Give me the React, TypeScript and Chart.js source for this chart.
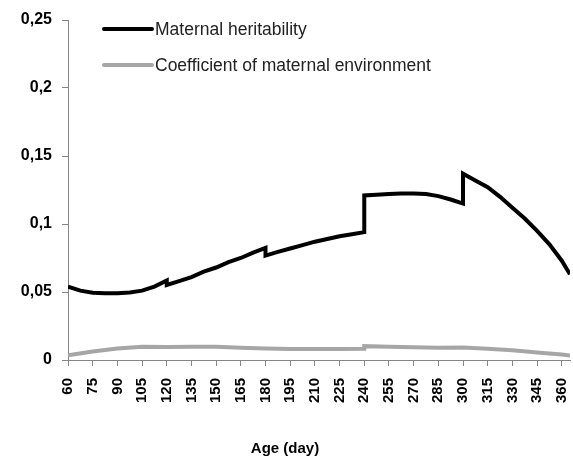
import React, { useEffect, useRef } from "react";
import { Chart, registerables } from "chart.js";

Chart.register(...registerables);

const heritAges = [60, 67.5, 75, 82.5, 90, 97.5, 105, 112.5, 120, 120, 127.5, 135, 142.5, 150, 157.5, 165, 172.5, 180, 180, 187.5, 195, 202.5, 210, 217.5, 225, 232.5, 240, 240, 247.5, 255, 262.5, 270, 277.5, 285, 292.5, 300, 300, 307.5, 315, 322.5, 330, 337.5, 345, 352.5, 360, 365];
const heritValues = [0.054, 0.051, 0.0495, 0.049, 0.049, 0.0497, 0.051, 0.054, 0.0585, 0.0552, 0.058, 0.061, 0.065, 0.068, 0.072, 0.075, 0.079, 0.0825, 0.0768, 0.0795, 0.082, 0.0845, 0.087, 0.089, 0.091, 0.0925, 0.094, 0.121, 0.1215, 0.122, 0.1225, 0.1225, 0.122, 0.1205, 0.118, 0.115, 0.137, 0.132, 0.127, 0.12, 0.112, 0.104, 0.095, 0.085, 0.073, 0.063];

const envAges = [60, 75, 90, 105, 120, 135, 150, 165, 180, 195, 210, 225, 240, 240, 255, 270, 285, 300, 315, 330, 345, 360, 365];
const envValues = [0.0035, 0.0062, 0.0085, 0.0098, 0.0095, 0.0098, 0.0098, 0.009, 0.0085, 0.008, 0.008, 0.008, 0.0082, 0.0102, 0.0098, 0.0093, 0.009, 0.0092, 0.0083, 0.0072, 0.0056, 0.004, 0.0033];

const xTickValues = [60, 75, 90, 105, 120, 135, 150, 165, 180, 195, 210, 225, 240, 255, 270, 285, 300, 315, 330, 345, 360];
const yTickLabels = ["0", "0,05", "0,1", "0,15", "0,2", "0,25"];

const seriesNames = ["Maternal heritability", "Coefficient of maternal environment"];
const seriesColors = ["#000000", "#a6a6a6"];

const legendPlugin = {
  id: "insideLegend",
  afterDraw(chart: any) {
    const ctx = chart.ctx;
    const a = chart.chartArea;
    ctx.save();
    seriesNames.forEach((name, i) => {
      const y = a.top + 9 + i * 36;
      ctx.strokeStyle = seriesColors[i];
      ctx.lineWidth = 4;
      ctx.lineCap = "round";
      ctx.beginPath();
      ctx.moveTo(a.left + 36, y);
      ctx.lineTo(a.left + 84, y);
      ctx.stroke();
      ctx.fillStyle = "#222";
      ctx.font = "17.5px 'Liberation Sans', Arial, sans-serif";
      ctx.textBaseline = "middle";
      ctx.textAlign = "left";
      ctx.fillText(name, a.left + 87, y + 1);
    });
    ctx.restore();
  },
};

export default function App() {
  const ref = useRef<HTMLCanvasElement | null>(null);
  useEffect(() => {
    document.body.style.margin = "0";
    if (!ref.current) return;
    const axisColor = "#868686";
    const chart = new Chart(ref.current, {
      type: "line",
      data: {
        datasets: [
          {
            label: seriesNames[0],
            data: heritAges.map((x, i) => ({ x, y: heritValues[i] })),
            borderColor: seriesColors[0],
            borderWidth: 4,
            pointRadius: 0,
            tension: 0,
            fill: false,
          },
          {
            label: seriesNames[1],
            data: envAges.map((x, i) => ({ x, y: envValues[i] })),
            borderColor: seriesColors[1],
            borderWidth: 4,
            pointRadius: 0,
            tension: 0,
            fill: false,
          },
        ],
      },
      options: {
        responsive: false,
        animation: false,
        layout: { padding: { top: 20, right: 3, left: 0, bottom: 0 } },
        plugins: {
          legend: { display: false },
          tooltip: { enabled: false },
          title: {
            display: true,
            position: "bottom",
            text: "Age (day)",
            color: "#000",
            font: { size: 15, weight: "bold", family: "'Liberation Sans', Arial, sans-serif" },
            padding: { top: 10, bottom: 3 },
          },
        },
        scales: {
          x: {
            type: "linear",
            min: 60,
            max: 365,
            afterBuildTicks: (scale: any) => {
              scale.ticks = xTickValues.map((v) => ({ value: v }));
            },
            afterFit: (scale: any) => {
              scale.height = 70;
              scale.paddingLeft = 0;
              scale.paddingRight = 0;
            },
            ticks: {
              autoSkip: false,
              minRotation: 90,
              maxRotation: 90,
              padding: 12,
              color: "#000",
              font: { size: 15, weight: "bold", family: "'Liberation Sans', Arial, sans-serif" },
              callback: (v: any) => String(v),
            },
            grid: { display: true, drawOnChartArea: false, drawTicks: true, tickLength: 6, color: axisColor },
            border: { display: true, color: axisColor, width: 1 },
          },
          y: {
            min: 0,
            max: 0.25,
            afterFit: (scale: any) => {
              scale.width = 68;
            },
            ticks: {
              stepSize: 0.05,
              padding: 10,
              color: "#000",
              font: { size: 16, weight: "bold", family: "'Liberation Sans', Arial, sans-serif" },
              callback: (_v: any, i: number) => yTickLabels[i],
            },
            grid: { display: true, drawOnChartArea: false, drawTicks: true, tickLength: 6, color: axisColor },
            border: { display: true, color: axisColor, width: 1 },
          },
        },
      },
      plugins: [legendPlugin],
    } as any);
    return () => chart.destroy();
  }, []);
  return (
    <div style={{ width: 573, height: 461, background: "#fff" }}>
      <canvas ref={ref} width={573} height={461} />
    </div>
  );
}
